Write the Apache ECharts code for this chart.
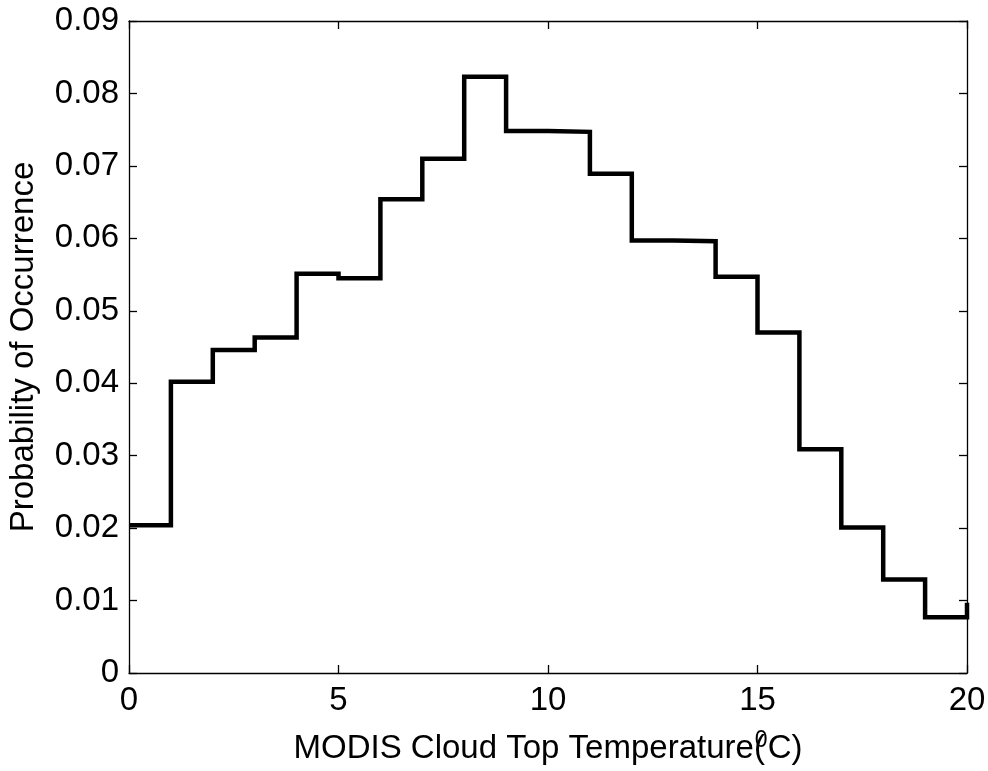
<!DOCTYPE html>
<html>
<head>
<meta charset="utf-8">
<script src="https://cdn.jsdelivr.net/npm/echarts@6/dist/echarts.min.js"></script>
<style>
html,body{margin:0;padding:0;background:#fff;}
#chart{width:988px;height:771px;}
</style>
</head>
<body>
<div id="chart"></div>
<script>
// Bin left edges (°C) and probability of occurrence per bin
const binStarts = [0,1,2,3,4,5,6,7,8,9,10,11,12,13,14,15,16,17,18,19,20];
const probabilities = [0.0204,0.0402,0.0446,0.0463,0.0551,0.0545,0.0654,0.0710,0.0823,0.0748,0.0747,0.0689,0.0597,0.0596,0.0547,0.0470,0.0309,0.0201,0.0129,0.0077,0.0097];
const xTickValues = [0,5,10,15,20];
const yTickLabels = ['0','0.01','0.02','0.03','0.04','0.05','0.06','0.07','0.08','0.09'];

const FONT = "'Liberation Sans', Arial, Helvetica, sans-serif";
const FS = 33;
const data = binStarts.map((x, i) => [x, probabilities[i]]);

const chart = echarts.init(document.getElementById('chart'), null, {renderer: 'canvas'});
const axisLine = {show: true, onZero: false, lineStyle: {color: '#000', width: 1.3}};
const tick = {show: true, inside: true, length: 8, lineStyle: {color: '#000', width: 1.3}};

chart.setOption({
  animation: false,
  backgroundColor: '#fff',
  grid: {left: 129, right: 21, top: 21, bottom: 98, containLabel: false, outerBoundsMode: 'none'},
  xAxis: [{
    type: 'value', position: 'bottom',
    min: xTickValues[0], max: xTickValues[xTickValues.length - 1], interval: 5,
    axisLine: axisLine, axisTick: tick, splitLine: {show: false},
    axisLabel: {color: '#000', fontFamily: FONT, fontSize: FS, margin: 11},
    name: '{a|MODIS Cloud Top Temperature(}{sup|0}{a|C)}',
    nameLocation: 'middle', nameGap: 56,
    nameTextStyle: {
      color: '#000', fontFamily: FONT, fontSize: FS,
      rich: {
        a: {fontFamily: FONT, fontSize: FS, lineHeight: 36, color: '#000', verticalAlign: 'bottom'},
        sup: {fontFamily: FONT, fontSize: 23, lineHeight: 23, color: '#000', verticalAlign: 'top', padding: [0, 0, 21, -10]}
      }
    }
  }, {
    type: 'value', position: 'top',
    min: xTickValues[0], max: xTickValues[xTickValues.length - 1], interval: 5,
    axisLine: axisLine, axisTick: tick, axisLabel: {show: false}, splitLine: {show: false}
  }],
  yAxis: [{
    type: 'value', position: 'left',
    min: 0, max: 0.09, interval: 0.01,
    axisLine: axisLine, axisTick: tick, splitLine: {show: false},
    axisLabel: {
      color: '#000', fontFamily: FONT, fontSize: FS, margin: 10,
      formatter: (v) => yTickLabels[Math.round(v * 100)]
    },
    name: 'Probability of Occurrence',
    nameLocation: 'middle', nameGap: 89,
    nameTextStyle: {color: '#000', fontFamily: FONT, fontSize: FS}
  }, {
    type: 'value', position: 'right',
    min: 0, max: 0.09, interval: 0.01,
    axisLine: axisLine, axisTick: tick, axisLabel: {show: false}, splitLine: {show: false}
  }],
  series: [{
    type: 'line',
    step: 'end',
    data: data,
    xAxisIndex: 0, yAxisIndex: 0,
    showSymbol: false, symbol: 'none',
    lineStyle: {color: '#000', width: 4.5, join: 'miter', cap: 'butt'},
    clip: true
  }]
});
</script>
</body>
</html>
